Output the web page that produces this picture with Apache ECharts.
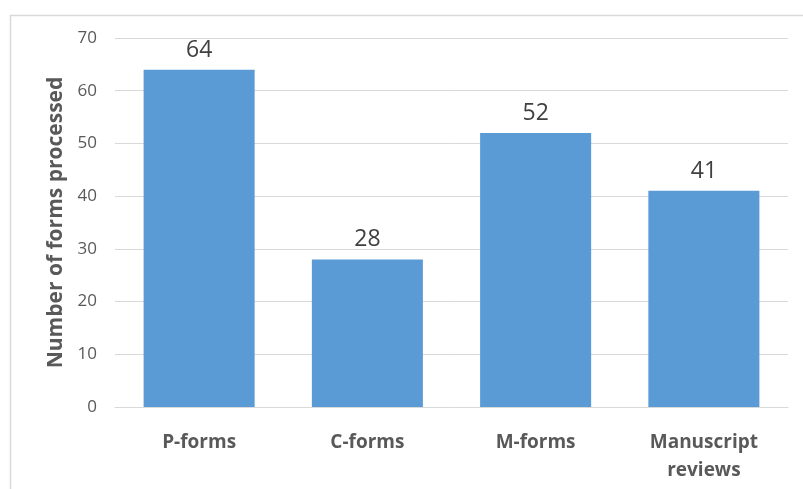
<!DOCTYPE html>
<html>
<head>
<meta charset="utf-8">
<script src="https://cdn.jsdelivr.net/npm/echarts@6/dist/echarts.min.js"></script>
<style>
  html, body { margin: 0; padding: 0; background: #fff; }
  #chart { width: 803px; height: 489px; }
</style>
</head>
<body>
<div id="chart"></div>
<script>
// data
const categories = ['P-forms', 'C-forms', 'M-forms', 'Manuscript\nreviews'];
const formCounts = [64, 28, 52, 41];
const yTicks = { min: 0, max: 70, interval: 10 };

const chart = echarts.init(document.getElementById('chart'));
const font = '"Open Sans", "Liberation Sans", sans-serif';

chart.setOption({
  animation: false,
  textStyle: { fontFamily: font },
  graphic: [{
    type: 'rect',
    shape: { x: 10.5, y: 15.5, width: 800, height: 500 },
    style: { fill: 'none', stroke: '#d9d9d9', lineWidth: 1.5 },
    silent: true
  }],
  grid: { left: 115, right: 15, top: 38, bottom: 82 },
  xAxis: {
    type: 'category',
    data: categories,
    axisLine: { lineStyle: { color: '#d9d9d9' } },
    axisTick: { show: false },
    axisLabel: {
      color: '#595959', fontSize: 19, fontWeight: 'bold',
      margin: 22, lineHeight: 28, fontFamily: font
    }
  },
  yAxis: {
    type: 'value',
    min: yTicks.min, max: yTicks.max, interval: yTicks.interval,
    name: 'Number of forms processed',
    nameLocation: 'middle',
    nameGap: 46,
    nameTextStyle: { color: '#595959', fontSize: 21, fontWeight: 'bold', fontFamily: font },
    axisLine: { show: false },
    axisTick: { show: false },
    axisLabel: { color: '#595959', fontSize: 17, margin: 18, fontFamily: font },
    splitLine: { lineStyle: { color: '#d9d9d9' } }
  },
  series: [{
    type: 'bar',
    data: formCounts,
    barWidth: '66%',
    itemStyle: { color: '#5b9bd5' },
    label: {
      show: true, position: 'top', distance: 8,
      color: '#404040', fontSize: 23, fontFamily: font
    }
  }]
});
</script>
</body>
</html>
